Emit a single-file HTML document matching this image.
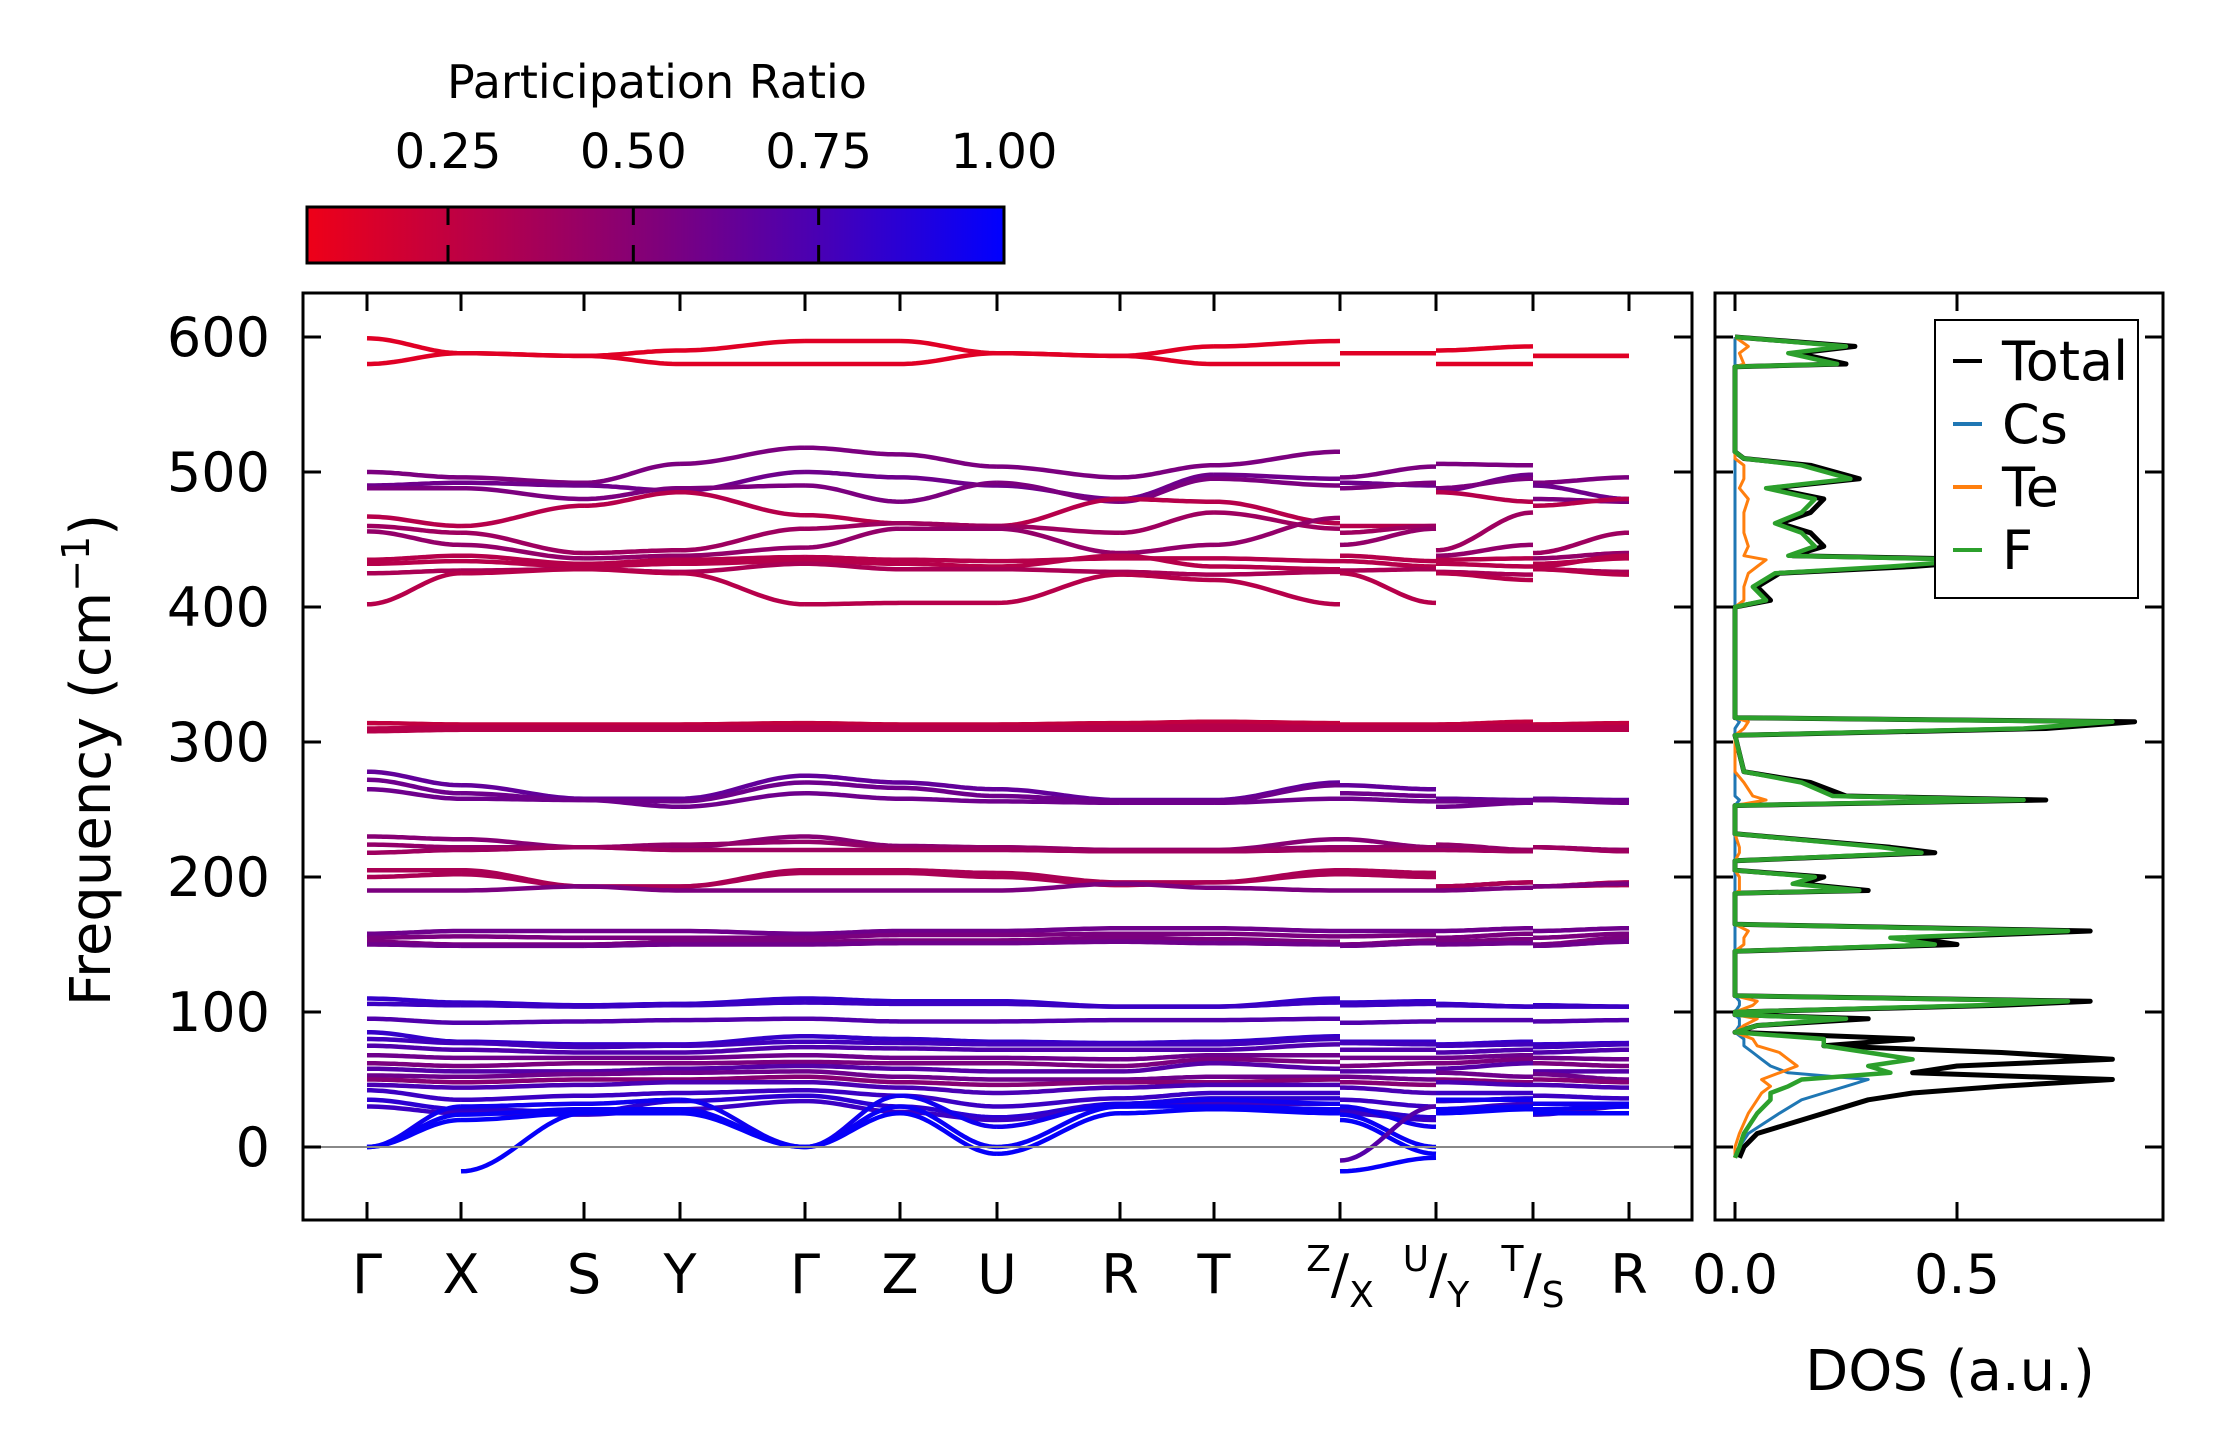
<!DOCTYPE html>
<html><head><meta charset="utf-8"><style>
html,body{margin:0;padding:0;background:#fff;}
svg{display:block;font-family:"DejaVu Sans","Liberation Sans",sans-serif;}
</style></head><body>
<svg id="fig" width="2222" height="1455" viewBox="0 0 2222 1455" xmlns="http://www.w3.org/2000/svg">
<defs>
<linearGradient id="cmap" x1="0" x2="1" y1="0" y2="0">
<stop offset="0" stop-color="#ee0018"/><stop offset="0.5" stop-color="#80007a"/><stop offset="0.75" stop-color="#4500b8"/><stop offset="1" stop-color="#0000ff"/>
</linearGradient>
<clipPath id="mainclip"><rect x="303" y="293" width="1389" height="927"/></clipPath>
<clipPath id="dosclip"><rect x="1715" y="293" width="448" height="927"/></clipPath>
</defs>
<g id="colorbar">
<text x="657" y="98" font-size="46" text-anchor="middle">Participation Ratio</text>
<rect x="307" y="207" width="697" height="56" fill="url(#cmap)" stroke="#000" stroke-width="3"/>
</g>
<g id="bands" clip-path="url(#mainclip)"></g>
<g id="dos" clip-path="url(#dosclip)"></g>
<g id="axes"></g>
</svg>
<script>
const kLabels = ["Γ","X","S","Y","Γ","Z","U","R","T","Z/X","U/Y","T/S","R"];
const yTicks = [0,100,200,300,400,500,600];
const cbTicks = [0.25,0.50,0.75,1.00];
const dosTicks = [0.0,0.5];
const bandFreqs = [
 [599,588,586,590,597,597,588,586,593,597],
 [580,588,586,580,580,580,588,586,580,580],
 [500,496,492,506,518,513,504,496,505,515],
 [490,492,490,486,500,496,490,480,498,495],
 [488,488,480,488,490,478,492,478,495,490],
 [467,460,475,485,468,462,460,480,478,462],
 [460,455,440,442,458,462,460,455,470,458],
 [456,446,436,438,444,458,458,440,446,466],
 [435,438,432,435,437,435,434,436,436,434],
 [432,434,430,432,434,432,430,438,430,428],
 [425,427,428,426,432,428,428,426,424,426],
 [402,425,428,425,402,403,403,424,420,402],
 [314,313,313,313,314,313,313,314,315,314],
 [310,311,311,311,311,311,311,311,312,311],
 [308,309,309,309,309,309,309,309,309,309],
 [278,268,258,258,275,270,265,257,257,270],
 [272,262,257,256,270,266,260,256,256,268],
 [265,258,257,252,262,258,256,255,255,258],
 [230,228,222,222,230,223,222,220,220,228],
 [224,222,222,224,226,222,222,220,220,222],
 [218,220,222,220,220,220,220,219,219,220],
 [205,205,193,193,205,205,203,196,196,205],
 [200,202,193,193,203,203,200,194,196,202],
 [190,190,193,190,190,190,190,195,192,190],
 [158,160,160,160,158,160,160,162,162,160],
 [155,156,155,155,155,157,157,158,158,156],
 [152,150,150,152,152,153,153,155,154,152],
 [150,149,149,150,150,151,151,152,151,150],
 [110,107,105,106,110,108,108,104,104,110],
 [106,105,104,105,107,106,106,104,104,107],
 [95,92,93,94,95,93,93,94,94,95],
 [85,78,76,76,82,80,78,77,78,82],
 [80,77,74,75,78,77,76,76,76,80],
 [75,72,70,70,74,73,72,72,72,76],
 [68,66,66,66,68,66,66,65,68,68],
 [62,60,62,62,63,62,62,60,65,63],
 [58,56,56,58,60,58,56,56,62,58],
 [53,52,54,55,56,52,50,50,52,52],
 [50,48,50,50,52,48,46,48,48,50],
 [46,44,46,48,48,44,40,44,46,46],
 [42,35,38,40,42,38,30,36,40,40],
 [35,28,26,34,38,30,22,32,36,36],
 [30,25,24,28,34,26,20,30,32,32],
 [0,30,32,35,0,38,15,32,35,32],
 [0,24,28,28,0,30,0,30,30,28],
 [0,20,25,25,0,25,-5,25,28,25]
];
const bandRatios = [0.12,0.12,0.55,0.6,0.55,0.3,0.4,0.45,0.3,0.3,0.35,0.3,0.25,0.3,0.3,0.65,0.6,0.6,0.5,0.45,0.4,0.35,0.35,0.55,0.6,0.55,0.55,0.6,0.82,0.8,0.72,0.82,0.78,0.72,0.6,0.55,0.7,0.6,0.5,0.75,0.8,0.85,0.8,0.95,0.97,0.98];
const extraStart = [1,9,9];
const extraEnd = [2,10,10];
const extraF0 = [-18,-10,-18];
const extraF1 = [25,30,-8];
const extraRatio = [0.98,0.7,0.98];
const dosFreq = [-8,0,10,25,35,40,45,50,55,60,65,70,75,80,85,90,95,98,100,105,108,112,145,150,155,160,165,188,190,195,200,205,212,218,222,232,253,257,260,270,278,305,310,315,318,400,405,415,425,430,435,438,445,455,462,470,480,488,495,505,510,515,578,580,588,593,600];
const dosTotal = [0.01,0.02,0.05,0.2,0.3,0.4,0.6,0.85,0.4,0.5,0.85,0.6,0.2,0.4,0.0,0.05,0.3,0.0,0.0,0.6,0.8,0.0,0.0,0.5,0.4,0.8,0.0,0.0,0.3,0.15,0.2,0.0,0.0,0.45,0.35,0.0,0.0,0.7,0.25,0.17,0.02,0.0,0.7,0.9,0.0,0.0,0.08,0.05,0.1,0.4,0.6,0.13,0.2,0.17,0.1,0.17,0.2,0.08,0.28,0.17,0.02,0.0,0.0,0.25,0.14,0.27,0.0];
const dosF = [0.0,0.01,0.02,0.05,0.08,0.08,0.12,0.15,0.35,0.3,0.4,0.3,0.2,0.2,0.0,0.05,0.25,0.0,0.0,0.55,0.75,0.0,0.0,0.45,0.35,0.75,0.0,0.0,0.28,0.13,0.18,0.0,0.0,0.42,0.33,0.0,0.0,0.65,0.22,0.15,0.02,0.0,0.65,0.85,0.0,0.0,0.07,0.04,0.09,0.35,0.55,0.12,0.18,0.15,0.09,0.15,0.18,0.07,0.26,0.15,0.02,0.0,0.0,0.23,0.12,0.25,0.0];
const dosTe = [0.0,0.0,0.01,0.03,0.05,0.06,0.08,0.06,0.1,0.14,0.12,0.1,0.05,0.04,0.0,0.02,0.05,0.0,0.0,0.04,0.05,0.0,0.0,0.02,0.02,0.03,0.0,0.0,0.01,0.01,0.01,0.0,0.0,0.01,0.01,0.0,0.0,0.07,0.04,0.02,0.0,0.0,0.02,0.03,0.0,0.0,0.02,0.02,0.03,0.05,0.07,0.02,0.03,0.02,0.02,0.02,0.03,0.01,0.02,0.02,0.0,0.0,0.0,0.02,0.01,0.03,0.0];
const dosCs = [0.0,0.01,0.03,0.1,0.15,0.2,0.25,0.3,0.12,0.08,0.06,0.04,0.02,0.02,0.0,0.01,0.01,0.0,0.0,0.01,0.01,0.0,0.0,0.0,0.0,0.0,0.0,0.0,0.0,0.0,0.0,0.0,0.0,0.0,0.0,0.0,0.0,0.01,0.0,0.0,0.0,0.0,0.0,0.01,0.0,0.0,0.0,0.0,0.0,0.0,0.0,0.0,0.0,0.0,0.0,0.0,0.0,0.0,0.0,0.0,0.0,0.0,0.0,0.0,0.0,0.0,0.0];

const NS="http://www.w3.org/2000/svg";
const kPos=[367,461,584,680,805,900,997,1120,1214,1340,1436,1533,1629];
const X0=303,X1=1692,Y0=293,Y1=1220;
const fy=f=>1147-f*1.35;
const dx=v=>1735+v*444;
const cbx=v=>448+(v-0.25)*741.3;
function el(tag,attrs,parent){const e=document.createElementNS(NS,tag);for(const k in attrs)e.setAttribute(k,attrs[k]);parent.appendChild(e);return e;}
function color(r){
  const stops=[[0.06,[238,0,24]],[0.53,[128,0,122]],[0.765,[69,0,184]],[1,[0,0,255]]];
  r=Math.max(0.06,Math.min(1,r));
  for(let i=0;i<stops.length-1;i++){const a=stops[i],b=stops[i+1];if(r<=b[0]){const t=(r-a[0])/(b[0]-a[0]);return 'rgb('+a[1].map((c,j)=>Math.round(c+(b[1][j]-c)*t)).join(',')+')';}}
  return 'rgb(0,0,255)';
}
const bandsG=document.getElementById('bands');
function seg(xa,xb,fa,fb,col){
  let d='';const n=24;
  for(let i=0;i<=n;i++){const t=i/n;const e=(1-Math.cos(Math.PI*t))/2;d+=(i?'L':'M')+(xa+(xb-xa)*t).toFixed(1)+','+fy(fa+(fb-fa)*e).toFixed(1);}
  const p=el('path',{d:d,fill:'none',stroke:col,'stroke-width':4.5},bandsG);
  
  
}
bandFreqs.forEach((b,bi)=>{
  const c=color(bandRatios[bi]);
  for(let i=0;i<9;i++) seg(kPos[i],kPos[i+1],b[i],b[i+1],c);
  seg(kPos[9],kPos[10],b[1],b[6],c);
  seg(kPos[10],kPos[11],b[3],b[8],c);
  seg(kPos[11],kPos[12],b[2],b[7],c);
});
extraStart.forEach((s,i)=>seg(kPos[s],kPos[extraEnd[i]],extraF0[i],extraF1[i],color(extraRatio[i])));
const zl=el('line',{x1:X0,x2:X1,y1:fy(0),y2:fy(0),stroke:'#888','stroke-width':2},bandsG);



const dosG=document.getElementById('dos');
[[dosTotal,'#000',5,'dos-total'],[dosCs,'#1f77b4',3,'dos-cs'],[dosTe,'#ff7f0e',3,'dos-te'],[dosF,'#2ca02c',4.5,'dos-f']].forEach(s=>{
  const pts=dosFreq.map((f,i)=>dx(s[0][i]).toFixed(1)+','+fy(f).toFixed(1)).join(' ');
  const p=el('polyline',{points:pts,fill:'none',stroke:s[1],'stroke-width':s[2],'stroke-linejoin':'round'},dosG);
  
  
});

const ax=document.getElementById('axes');
function frame(x,y,w,h,name){const r=el('rect',{x:x,y:y,width:w,height:h,fill:'none',stroke:'#000','stroke-width':3},ax);}
frame(X0,Y0,X1-X0,Y1-Y0,'band-axes-frame');
frame(1715,Y0,448,Y1-Y0,'dos-axes-frame');
function tick(x1,y1,x2,y2){const t=el('line',{x1:x1,y1:y1,x2:x2,y2:y2,stroke:'#000','stroke-width':3},ax);}
function txt(s,x,y,size,anchor,name){const t=el('text',{x:x,y:y,'font-size':size,'text-anchor':anchor},ax);t.textContent=s;return t;}
yTicks.forEach(v=>{const y=fy(v);tick(X0,y,X0+18,y);tick(X1,y,X1-18,y);tick(1715,y,1733,y);tick(2163,y,2145,y);txt(String(v),270,y+19,54,'end','y-tick-label');});
kLabels.forEach((l,i)=>{const x=kPos[i];tick(x,Y0,x,Y0+18);tick(x,Y1,x,Y1-18);
  if(l.includes('/')){const parts=l.split('/');const t=el('text',{x:x,y:1293,'font-size':54,'text-anchor':'middle'},ax);
    
    const s1=el('tspan',{'font-size':36,dy:-22},t);s1.textContent=parts[0];const s2=el('tspan',{dy:22},t);s2.textContent='/';const s3=el('tspan',{'font-size':36,dy:14},t);s3.textContent=parts[1];}
  else txt(l,x,1293,54,'middle','k-point-label');});
dosTicks.forEach(v=>{const x=dx(v);tick(x,Y0,x,Y0+18);tick(x,Y1,x,Y1-18);txt(v.toFixed(1),x,1293,54,'middle','dos-tick-label');});
cbTicks.forEach(v=>{const x=cbx(v);tick(x,207,x,225);tick(x,263,x,245);txt(v.toFixed(2),x,168,48,'middle','colorbar-tick-label');});
const yl=txt('Frequency (cm',0,0,56,'middle','y-axis-title');
yl.setAttribute('transform','translate(110,760) rotate(-90)');
const sup=el('tspan',{'font-size':38,dy:-21},yl);sup.textContent='−1';
const cp=el('tspan',{dy:21},yl);cp.textContent=')';
txt('DOS (a.u.)',1950,1390,56,'middle','dos-axis-title');
const lg=el('g',{},ax);
const lb=el('rect',{x:1935,y:320,width:203,height:278,fill:'#fff',stroke:'#000','stroke-width':2},lg);

[['Total','#000'],['Cs','#1f77b4'],['Te','#ff7f0e'],['F','#2ca02c']].forEach((e,i)=>{
  const y=361+i*63;
  const l=el('line',{x1:1953,x2:1982,y1:y,y2:y,stroke:e[1],'stroke-width':4},lg);
  
  const t=el('text',{x:2002,y:y+19,'font-size':54},lg);t.textContent=e[0];
  
});
</script>
</body></html>
